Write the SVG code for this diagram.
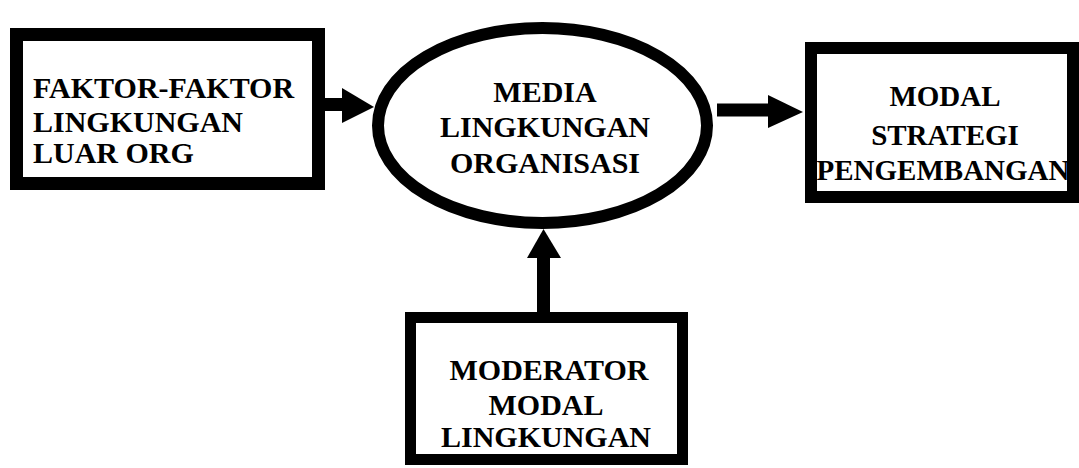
<svg xmlns="http://www.w3.org/2000/svg" width="1079" height="468" viewBox="0 0 1079 468">
  <style>
    .box { fill: #ffffff; stroke: #000000; stroke-width: 13; }
    .oval { fill: #ffffff; stroke: #000000; stroke-width: 12; }
    .label { font-family: "Liberation Serif", "Times New Roman", serif; font-weight: bold; font-size: 30px; fill: #000000; }
    .mid { text-anchor: middle; }
    .shaft { stroke: #000000; stroke-width: 13; fill: none; }
    .head { fill: #000000; stroke: none; }
  </style>
  <rect width="1079" height="468" fill="#ffffff"/>

  <g id="connectors">
    <!-- external factors -> organisation media -->
    <line class="shaft" x1="322" y1="104.5" x2="345" y2="104.5"/>
    <polygon class="head" points="342,88 374,107 342,123"/>
    <!-- organisation media -> strategy -->
    <line class="shaft" x1="717" y1="110" x2="771" y2="110"/>
    <polygon class="head" points="768,95 803,112 768,128"/>
    <!-- moderator -> organisation media -->
    <line class="shaft" x1="543.5" y1="314" x2="543.5" y2="254"/>
    <polygon class="head" points="527,258 543.5,229 561,258"/>
  </g>

  <g id="node-faktor">
    <rect class="box" x="16.5" y="34.5" width="302" height="149"/>
    <text class="label" x="33" y="98">FAKTOR-FAKTOR</text>
    <text class="label" x="33" y="132">LINGKUNGAN</text>
    <text class="label" x="33" y="163">LUAR ORG</text>
  </g>

  <g id="node-media">
    <ellipse class="oval" cx="542.5" cy="125.5" rx="164.5" ry="97.5"/>
    <text class="label mid" x="545" y="102">MEDIA</text>
    <text class="label mid" x="545" y="137">LINGKUNGAN</text>
    <text class="label mid" x="545" y="173">ORGANISASI</text>
  </g>

  <g id="node-strategi">
    <rect class="box" x="811" y="48" width="262" height="149" style="stroke-width:12"/>
    <text class="label mid" x="945" y="106" style="font-size:29px">MODAL</text>
    <text class="label mid" x="945" y="145" style="font-size:29px">STRATEGI</text>
    <text class="label mid" x="943" y="180" style="font-size:29px">PENGEMBANGAN</text>
  </g>

  <g id="node-moderator">
    <rect class="box" x="410.5" y="317.5" width="272" height="142" style="stroke-width:11"/>
    <text class="label mid" x="549" y="380">MODERATOR</text>
    <text class="label mid" x="546" y="415">MODAL</text>
    <text class="label mid" x="546" y="447">LINGKUNGAN</text>
  </g>
</svg>
